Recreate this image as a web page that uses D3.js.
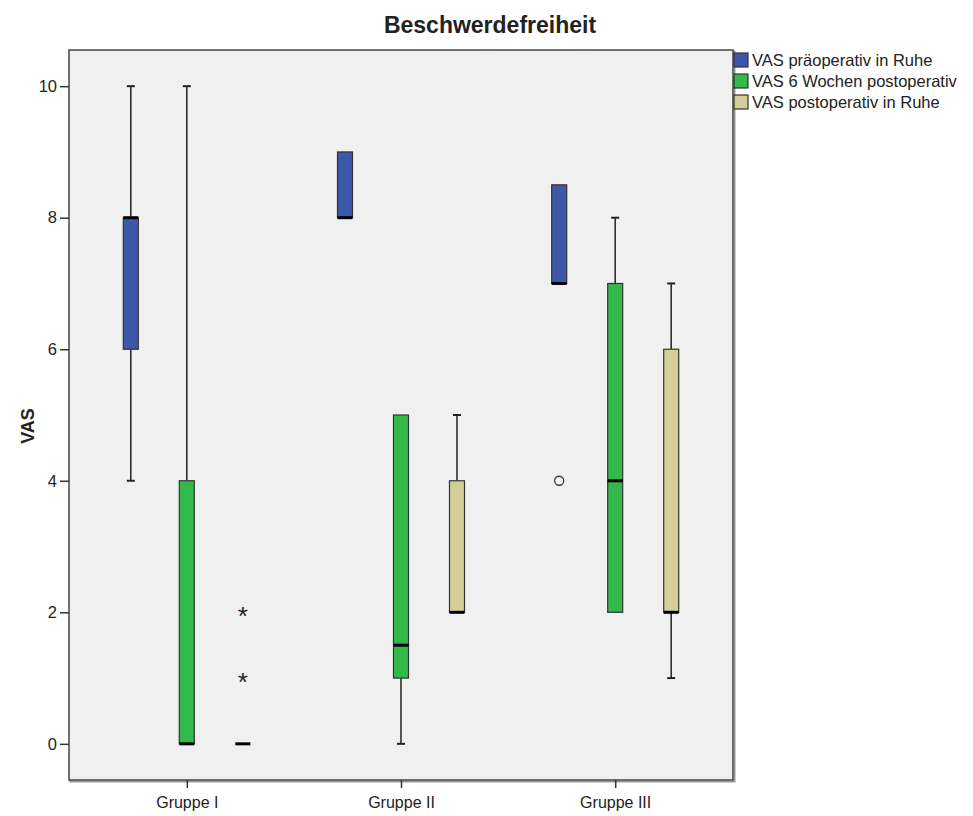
<!DOCTYPE html>
<html>
<head>
<meta charset="utf-8">
<script src="https://cdn.jsdelivr.net/npm/d3@7"></script>
<style>
  body { margin: 0; background: #fff; }
  text { font-family: "Liberation Sans", Arial, sans-serif; fill: #222; }
</style>
</head>
<body>
<div id="chart"></div>
<script>
// values, indexed [group][series]
var groups = ["Gruppe I", "Gruppe II", "Gruppe III"];
var series = ["VAS präoperativ in Ruhe", "VAS 6 Wochen postoperativ", "VAS postoperativ in Ruhe"];
var colors = ["#3d58a9", "#33b84a", "#d4cf98"];
var lows    = [[4, 0, 0], [8, 0, 2], [7, 2, 1]];
var q1s     = [[6, 0, 0], [8, 1, 2], [7, 2, 2]];
var medians = [[8, 0, 0], [8, 1.5, 2], [7, 4, 2]];
var q3s     = [[8, 4, 0], [9, 5, 4], [8.5, 7, 6]];
var highs   = [[10, 10, 0], [9, 5, 5], [8.5, 8, 7]];
// outliers (circle) and extremes (asterisk): [group, series, value]
var outliers = [[2, 0, 4]];
var extremes = [[0, 2, 1], [0, 2, 2]];
var yTicks = [0, 2, 4, 6, 8, 10];

var W = 973, H = 816,
    margin = {top: 50, right: 240, bottom: 36, left: 69},
    width = W - margin.left - margin.right,
    height = H - margin.top - margin.bottom;

var svg = d3.select("#chart").append("svg")
    .attr("width", W)
    .attr("height", H);

var g = svg.append("g")
    .attr("transform", "translate(" + margin.left + "," + margin.top + ")");

var x = d3.scalePoint().domain(groups).range([0, width]).padding(0.55);
var xs = d3.scaleBand().domain(series).range([-84, 84]);
var y = d3.scaleLinear().domain([-0.55, 10.55]).range([height, 0]);
var boxW = 15, capW = 8;

// plot background + border (with a light shadow on right/bottom)
g.append("rect")
    .attr("x", 1.5).attr("y", 1.5)
    .attr("width", width).attr("height", height)
    .attr("fill", "none").attr("stroke", "#999").attr("stroke-width", 2);
g.append("rect")
    .attr("width", width).attr("height", height)
    .attr("fill", "#f0f0f0").attr("stroke", "#444").attr("stroke-width", 1.5);

// axes
var yAxis = g.append("g")
    .call(d3.axisLeft(y).tickValues(yTicks).tickSize(9).tickPadding(3));
yAxis.select(".domain").remove();
yAxis.selectAll("line").attr("stroke", "#333").attr("stroke-width", 1.5);
yAxis.selectAll("text").style("font-size", "16.5px").attr("fill", "#222");

var xAxis = g.append("g")
    .attr("transform", "translate(0," + height + ")")
    .call(d3.axisBottom(x).tickSize(8).tickPadding(9));
xAxis.select(".domain").remove();
xAxis.selectAll("line").attr("stroke", "#333").attr("stroke-width", 1.5);
xAxis.selectAll("text").style("font-size", "16px").attr("fill", "#222");

// boxes
var cells = [];
groups.forEach(function(gr, i) {
    series.forEach(function(s, j) {
        cells.push({i: i, j: j, cx: x(gr) + xs(s) + xs.bandwidth() / 2});
    });
});

var box = g.selectAll(".box").data(cells).enter().append("g").attr("class", "box");

// whiskers, box, median
box.each(function(d) {
    var sel = d3.select(this);
    var lo = lows[d.i][d.j], hi = highs[d.i][d.j],
        b1 = q1s[d.i][d.j], b3 = q3s[d.i][d.j];
    if (hi > b3) {
        sel.append("line").attr("x1", d.cx).attr("x2", d.cx)
            .attr("y1", y(b3)).attr("y2", y(hi)).attr("stroke", "#222").attr("stroke-width", 1.5);
        sel.append("line").attr("x1", d.cx - capW / 2).attr("x2", d.cx + capW / 2)
            .attr("y1", y(hi)).attr("y2", y(hi)).attr("stroke", "#222").attr("stroke-width", 2);
    }
    if (lo < b1) {
        sel.append("line").attr("x1", d.cx).attr("x2", d.cx)
            .attr("y1", y(b1)).attr("y2", y(lo)).attr("stroke", "#222").attr("stroke-width", 1.5);
        sel.append("line").attr("x1", d.cx - capW / 2).attr("x2", d.cx + capW / 2)
            .attr("y1", y(lo)).attr("y2", y(lo)).attr("stroke", "#222").attr("stroke-width", 2);
    }
    if (b3 > b1) {
        sel.append("rect")
            .attr("x", d.cx - boxW / 2).attr("width", boxW)
            .attr("y", y(b3)).attr("height", y(b1) - y(b3))
            .attr("fill", colors[d.j]).attr("stroke", "#333").attr("stroke-width", 1.2);
    }
    sel.append("line")
        .attr("x1", d.cx - boxW / 2).attr("x2", d.cx + boxW / 2)
        .attr("y1", y(medians[d.i][d.j])).attr("y2", y(medians[d.i][d.j]))
        .attr("stroke", "#000").attr("stroke-width", 3);
});

function cellX(o) { return x(groups[o[0]]) + xs(series[o[1]]) + xs.bandwidth() / 2; }

g.selectAll(".outlier").data(outliers).enter().append("circle")
    .attr("class", "outlier")
    .attr("cx", cellX).attr("cy", function(d) { return y(d[2]); })
    .attr("r", 4.5).attr("fill", "#f8f8f8").attr("stroke", "#333").attr("stroke-width", 1.3);

g.selectAll(".extreme").data(extremes).enter().append("text")
    .attr("class", "extreme")
    .attr("x", cellX).attr("y", function(d) { return y(d[2]) + 13; })
    .attr("text-anchor", "middle")
    .style("font-size", "26px")
    .text("*");

// title and y label
svg.append("text")
    .attr("x", 490).attr("y", 33)
    .attr("text-anchor", "middle")
    .style("font-size", "23px").style("font-weight", "bold")
    .text("Beschwerdefreiheit");

svg.append("text")
    .attr("transform", "translate(34," + (margin.top + height / 2 + 11) + ") rotate(-90)")
    .attr("text-anchor", "middle")
    .style("font-size", "18px").style("font-weight", "bold")
    .text("VAS");

// legend
var legend = svg.append("g")
    .attr("transform", "translate(" + (margin.left + width + 1) + "," + (margin.top + 3) + ")");
var item = legend.selectAll(".item").data(series).enter().append("g")
    .attr("transform", function(d, i) { return "translate(0," + (i * 21) + ")"; });
item.append("rect")
    .attr("width", 14).attr("height", 14)
    .attr("fill", function(d, i) { return colors[i]; })
    .attr("stroke", "#333").attr("stroke-width", 1.2);
item.append("text")
    .attr("x", 18).attr("y", 13)
    .style("font-size", "16.5px")
    .text(function(d) { return d; });
</script>
</body>
</html>
